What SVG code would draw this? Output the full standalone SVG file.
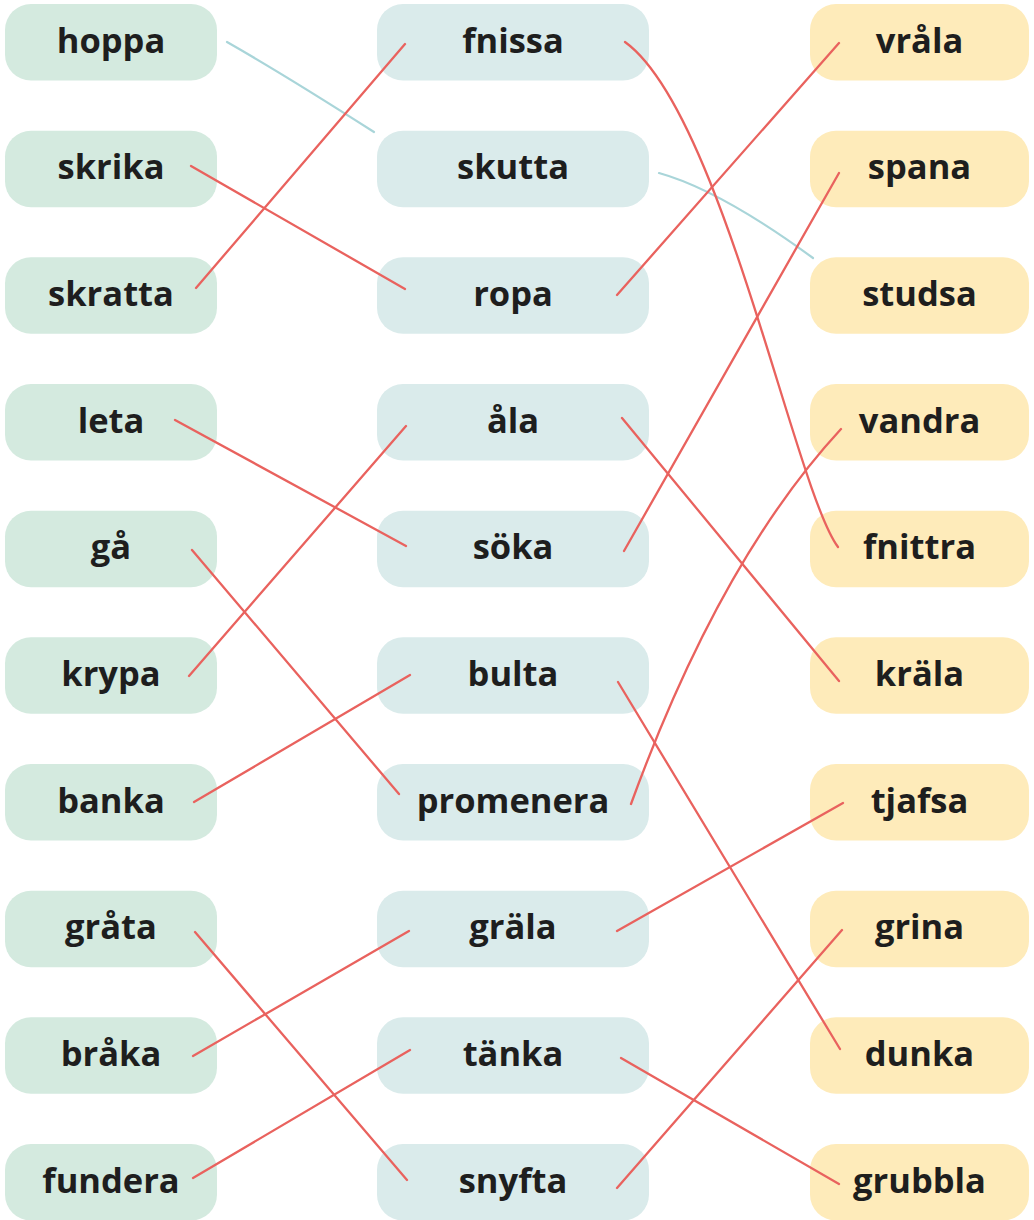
<svg xmlns="http://www.w3.org/2000/svg" width="1034" height="1220" viewBox="0 0 1034 1220">
<style>
.l{fill:#d4eadf}
.m{fill:#daebeb}
.r{fill:#feebba}
text{font-family:"Open Sans","Noto Sans","DejaVu Sans",sans-serif;font-weight:700;font-size:34.5px;fill:#1e1e1e;text-anchor:middle}
.c{fill:none;stroke:#e9625e;stroke-width:2.3;stroke-linecap:round}
.c2{fill:none;stroke:#a9d5d9;stroke-width:2.2;stroke-linecap:round}
</style>
<rect width="1034" height="1220" fill="#ffffff"/>
<g id="nodes-left">
<g id="n-hoppa"><rect class="l" x="5" y="4" width="212" height="76.5" rx="26"/><text x="111" y="52.5">hoppa</text></g>
<g id="n-skrika"><rect class="l" x="5" y="130.7" width="212" height="76.5" rx="26"/><text x="111" y="179.2">skrika</text></g>
<g id="n-skratta"><rect class="l" x="5" y="257.3" width="212" height="76.5" rx="26"/><text x="111" y="305.8">skratta</text></g>
<g id="n-leta"><rect class="l" x="5" y="384" width="212" height="76.5" rx="26"/><text x="111" y="432.5">leta</text></g>
<g id="n-ga"><rect class="l" x="5" y="510.7" width="212" height="76.5" rx="26"/><text x="111" y="559.2">gå</text></g>
<g id="n-krypa"><rect class="l" x="5" y="637.3" width="212" height="76.5" rx="26"/><text x="111" y="685.8">krypa</text></g>
<g id="n-banka"><rect class="l" x="5" y="764" width="212" height="76.5" rx="26"/><text x="111" y="812.5">banka</text></g>
<g id="n-grata"><rect class="l" x="5" y="890.7" width="212" height="76.5" rx="26"/><text x="111" y="939.2">gråta</text></g>
<g id="n-braka"><rect class="l" x="5" y="1017.3" width="212" height="76.5" rx="26"/><text x="111" y="1065.8">bråka</text></g>
<g id="n-fundera"><rect class="l" x="5" y="1144" width="212" height="76.5" rx="26"/><text x="111" y="1192.5">fundera</text></g>
</g>
<g id="nodes-middle">
<g id="n-fnissa"><rect class="m" x="377" y="4" width="272" height="76.5" rx="26"/><text x="513" y="52.5">fnissa</text></g>
<g id="n-skutta"><rect class="m" x="377" y="130.7" width="272" height="76.5" rx="26"/><text x="513" y="179.2">skutta</text></g>
<g id="n-ropa"><rect class="m" x="377" y="257.3" width="272" height="76.5" rx="26"/><text x="513" y="305.8">ropa</text></g>
<g id="n-ala"><rect class="m" x="377" y="384" width="272" height="76.5" rx="26"/><text x="513" y="432.5">åla</text></g>
<g id="n-soka"><rect class="m" x="377" y="510.7" width="272" height="76.5" rx="26"/><text x="513" y="559.2">söka</text></g>
<g id="n-bulta"><rect class="m" x="377" y="637.3" width="272" height="76.5" rx="26"/><text x="513" y="685.8">bulta</text></g>
<g id="n-promenera"><rect class="m" x="377" y="764" width="272" height="76.5" rx="26"/><text x="513" y="812.5">promenera</text></g>
<g id="n-grala"><rect class="m" x="377" y="890.7" width="272" height="76.5" rx="26"/><text x="513" y="939.2">gräla</text></g>
<g id="n-tanka"><rect class="m" x="377" y="1017.3" width="272" height="76.5" rx="26"/><text x="513" y="1065.8">tänka</text></g>
<g id="n-snyfta"><rect class="m" x="377" y="1144" width="272" height="76.5" rx="26"/><text x="513" y="1192.5">snyfta</text></g>
</g>
<g id="nodes-right">
<g id="n-vrala"><rect class="r" x="810" y="4" width="219" height="76.5" rx="26"/><text x="919.5" y="52.5">vråla</text></g>
<g id="n-spana"><rect class="r" x="810" y="130.7" width="219" height="76.5" rx="26"/><text x="919.5" y="179.2">spana</text></g>
<g id="n-studsa"><rect class="r" x="810" y="257.3" width="219" height="76.5" rx="26"/><text x="919.5" y="305.8">studsa</text></g>
<g id="n-vandra"><rect class="r" x="810" y="384" width="219" height="76.5" rx="26"/><text x="919.5" y="432.5">vandra</text></g>
<g id="n-fnittra"><rect class="r" x="810" y="510.7" width="219" height="76.5" rx="26"/><text x="919.5" y="559.2">fnittra</text></g>
<g id="n-krala"><rect class="r" x="810" y="637.3" width="219" height="76.5" rx="26"/><text x="919.5" y="685.8">kräla</text></g>
<g id="n-tjafsa"><rect class="r" x="810" y="764" width="219" height="76.5" rx="26"/><text x="919.5" y="812.5">tjafsa</text></g>
<g id="n-grina"><rect class="r" x="810" y="890.7" width="219" height="76.5" rx="26"/><text x="919.5" y="939.2">grina</text></g>
<g id="n-dunka"><rect class="r" x="810" y="1017.3" width="219" height="76.5" rx="26"/><text x="919.5" y="1065.8">dunka</text></g>
<g id="n-grubbla"><rect class="r" x="810" y="1144" width="219" height="76.5" rx="26"/><text x="919.5" y="1192.5">grubbla</text></g>
</g>
<g id="connectors">
<path class="c2" d="M227,42 Q285,75 374,132"/>
<path class="c2" d="M659,173 Q720,190 813,258"/>
<path class="c" d="M196,288 L405,44"/>
<path class="c" d="M191,166 L405,289"/>
<path class="c" d="M625,42 C722,112 795,490 838,547"/>
<path class="c" d="M617,295 L839,43"/>
<path class="c" d="M175,420 L406,546"/>
<path class="c" d="M189,676 L406,426"/>
<path class="c" d="M192,550 L399,794"/>
<path class="c" d="M624,551 L839,173"/>
<path class="c" d="M622,418 L839,681"/>
<path class="c" d="M194,802 L410,675"/>
<path class="c" d="M631,804 Q720,560 841,429"/>
<path class="c" d="M618,682 L840,1049"/>
<path class="c" d="M195,932 L407,1180"/>
<path class="c" d="M193,1056 L409,931"/>
<path class="c" d="M193,1178 L410,1050"/>
<path class="c" d="M617,931 L843,803"/>
<path class="c" d="M621,1058 L839,1184"/>
<path class="c" d="M617,1188 L842,930"/>
</g>
</svg>
